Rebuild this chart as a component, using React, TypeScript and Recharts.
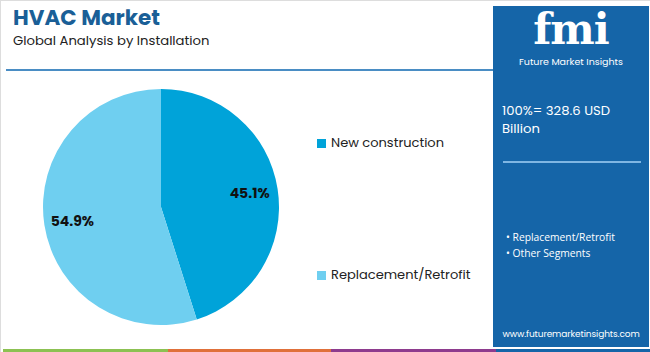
import { Legend, Pie, PieChart, Cell } from 'recharts'

const segments = ['New construction', 'Replacement/Retrofit']
const shares = [45.1, 54.9]
const sliceColors = ['#00a3d9', '#6fcff0']
const panelBullets = ['Replacement/Retrofit', 'Other Segments']
const footerColors = ['#8cc152', '#e0703a', '#8e3b8e', '#1565a8']
const footerWidths = [165, 163, 165, 155]

const data = segments.map((name, i) => ({ name, value: shares[i] }))

const FONT = 'Poppins, "Open Sans", Inter, sans-serif'
const RAD = Math.PI / 180

function renderLabel(p: any) {
  const r = p.outerRadius * 0.76
  const x = p.cx + r * Math.cos(-p.midAngle * RAD)
  const y = p.cy + r * Math.sin(-p.midAngle * RAD)
  return (
    <text
      x={x}
      y={y}
      textAnchor="middle"
      dominantBaseline="central"
      fill="#111"
      fontSize={14}
      fontWeight={700}
      fontFamily={FONT}
    >
      {`${p.value.toFixed(1)}%`}
    </text>
  )
}

function renderLegend(props: any) {
  const items = props.payload || []
  return (
    <div style={{ fontFamily: FONT }}>
      {items.map((it: any, i: number) => (
        <div
          key={it.value}
          style={{
            display: 'flex',
            alignItems: 'center',
            height: 20,
            marginBottom: i === 0 ? 112 : 0,
            fontSize: 13,
            color: '#222',
          }}
        >
          <span style={{ width: 9, height: 9, background: it.color, marginRight: 5, display: 'inline-block' }} />
          {it.value}
        </div>
      ))}
    </div>
  )
}

export default function App() {
  return (
    <div
      style={{
        position: 'fixed',
        left: 0,
        top: 0,
        width: 650,
        height: 352,
        background: '#fff',
        overflow: 'hidden',
        boxSizing: 'border-box',
        borderLeft: '1px solid #ddd',
        borderTop: '1px solid #ddd',
        fontFamily: FONT,
      }}
    >
      <div style={{ position: 'absolute', left: 12, top: 4, fontSize: 21.5, lineHeight: '26px', fontWeight: 700, color: '#1a5f97' }}>
        HVAC Market
      </div>
      <div style={{ position: 'absolute', left: 12, top: 31, fontSize: 13.2, lineHeight: '18px', color: '#222' }}>
        Global Analysis by Installation
      </div>
      <div style={{ position: 'absolute', left: 5, top: 68, width: 487, height: 2, background: '#4a8dc4' }} />

      <div style={{ position: 'absolute', left: 0, top: 0 }}>
        <PieChart width={490} height={345} margin={{ top: 0, right: 0, bottom: 0, left: 0 }}>
          <Pie
            data={data}
            dataKey="value"
            nameKey="name"
            cx={160}
            cy={206}
            outerRadius={118}
            startAngle={90}
            endAngle={-270}
            stroke="none"
            label={renderLabel}
            labelLine={false}
            isAnimationActive={false}
          >
            {data.map((d, i) => (
              <Cell key={d.name} fill={sliceColors[i]} />
            ))}
          </Pie>
          <Legend
            layout="vertical"
            verticalAlign="top"
            align="right"
            wrapperStyle={{ left: 316, top: 132, width: 175 }}
            content={renderLegend}
          />
        </PieChart>
      </div>

      <div
        style={{
          position: 'absolute',
          left: 492,
          top: 5,
          width: 156,
          height: 341,
          background: '#1565a8',
          color: '#fff',
        }}
      >
        <div
          style={{
            position: 'absolute',
            left: 0,
            top: 3,
            width: 156,
            textAlign: 'center',
            fontSize: 42,
            fontWeight: 700,
            fontFamily: '"DejaVu Serif", serif',
            letterSpacing: -1,
            lineHeight: '42px',
          }}
        >
          fmi
        </div>
        <div style={{ position: 'absolute', left: 0, top: 50, width: 156, textAlign: 'center', fontSize: 9.5, lineHeight: '12px' }}>
          Future Market Insights
        </div>
        <div style={{ position: 'absolute', left: 9, top: 96, fontSize: 13.2, lineHeight: '18px' }}>
          100%= 328.6 USD
          <br />
          Billion
        </div>
        <div style={{ position: 'absolute', left: 10, top: 155, width: 138, height: 1.5, background: '#7fb6e3' }} />
        <div style={{ position: 'absolute', left: 13, top: 223, fontSize: 10.3, lineHeight: '16px', fontFamily: '"Open Sans", sans-serif' }}>
          {panelBullets.map((b) => (
            <div key={b}>• {b}</div>
          ))}
        </div>
        <div
          style={{
            position: 'absolute',
            left: 0,
            top: 322,
            width: 156,
            textAlign: 'center',
            fontSize: 9,
            letterSpacing: -0.1,
          }}
        >
          www.futuremarketinsights.com
        </div>
      </div>

      <div style={{ position: 'absolute', left: 2, top: 348, height: 4, display: 'flex' }}>
        {footerColors.map((c, i) => (
          <div key={c} style={{ width: footerWidths[i], background: c }} />
        ))}
      </div>
    </div>
  )
}
